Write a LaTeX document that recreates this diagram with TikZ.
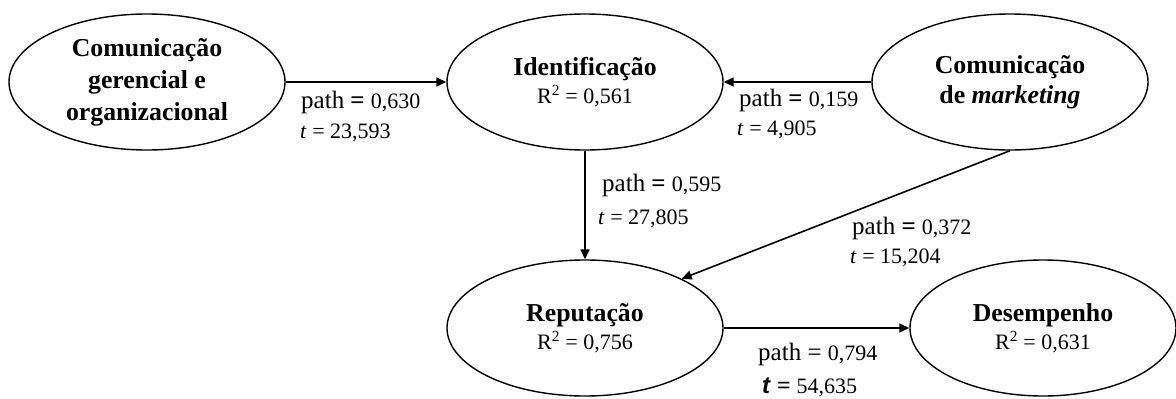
\documentclass[tikz,border=0pt]{standalone}
\usepackage{fontspec}
\setmainfont{Liberation Serif}
\newfontfamily\sansfam{Liberation Sans}
\usetikzlibrary{shapes.geometric,arrows.meta}
\newcommand\bigtxt{\fontsize{25.8}{32}\selectfont}
\newcommand\smtxt{\fontsize{22}{26}\selectfont}
\newcommand\pathlbl[1]{{\fontsize{25}{28}\selectfont path \textbf{=} }{\smtxt #1}}
\newcommand\tlbl[1]{{\smtxt\textit{t} = #1}}
\newcommand\rsq[1]{{\smtxt\mdseries R\textsuperscript{2} = #1}}
\tikzset{
  construct/.style={draw, line width=1.4pt, ellipse, inner sep=0pt, minimum width=276pt, minimum height=136pt, align=center, font=\bigtxt\bfseries},
  conn/.style={line width=1.6pt, -{Triangle[length=10pt,width=9pt]}},
  lbl/.style={inner sep=0pt, anchor=west}
}
\begin{document}
\begin{tikzpicture}[x=1pt,y=-1pt]
\useasboundingbox (0,0) rectangle (1176,399);
\node[construct] (cg) at (147,82) {Comunica\c{c}\~ao\\gerencial e\\organizacional};
\node[construct] (id) at (585,82) {Identifica\c{c}\~ao\\[-4pt]\rsq{0,561}};
\node[construct] (mk) at (1010,82) {Comunica\c{c}\~ao\\[-2pt]de \textit{marketing}};
\node[construct] (rp) at (585,328) {Reputa\c{c}\~ao\\[-4pt]\rsq{0,756}};
\node[construct, minimum width=266pt] (ds) at (1043,328) {Desempenho\\[-4pt]\rsq{0,631}};

\draw[conn] (cg.east) -- (id.west);
\draw[conn] (mk.west) -- (id.east);
\draw[conn] (id.south) -- (rp.north);
\draw[conn] (mk.south) -- (rp.27);
\draw[conn] (rp.east) -- (ds.west);

\node[lbl] (l1a) at (301,102) {\pathlbl{0,630}};
\node[lbl] (l1b) at (300,133) {\tlbl{23,593}};
\node[lbl] (l2a) at (739,100) {\pathlbl{0,159}};
\node[lbl] (l2b) at (737,130) {\tlbl{4,905}};
\node[lbl] (l3a) at (602,185) {\pathlbl{0,595}};
\node[lbl] (l3b) at (598,219) {\tlbl{27,805}};
\node[lbl] (l4a) at (852,228) {\pathlbl{0,372}};
\node[lbl] (l4b) at (850,258) {\tlbl{15,204}};
\node[lbl] (l5a) at (758,354) {{\fontsize{25}{28}\selectfont path = }{\smtxt 0,794}};
\node[lbl] (l5b) at (762,387) {{\fontsize{24}{28}\selectfont\sansfam\bfseries\itshape t}{\fontsize{24}{28}\selectfont\ \textbf{=} }{\smtxt 54,635}};
\end{tikzpicture}
\end{document}
